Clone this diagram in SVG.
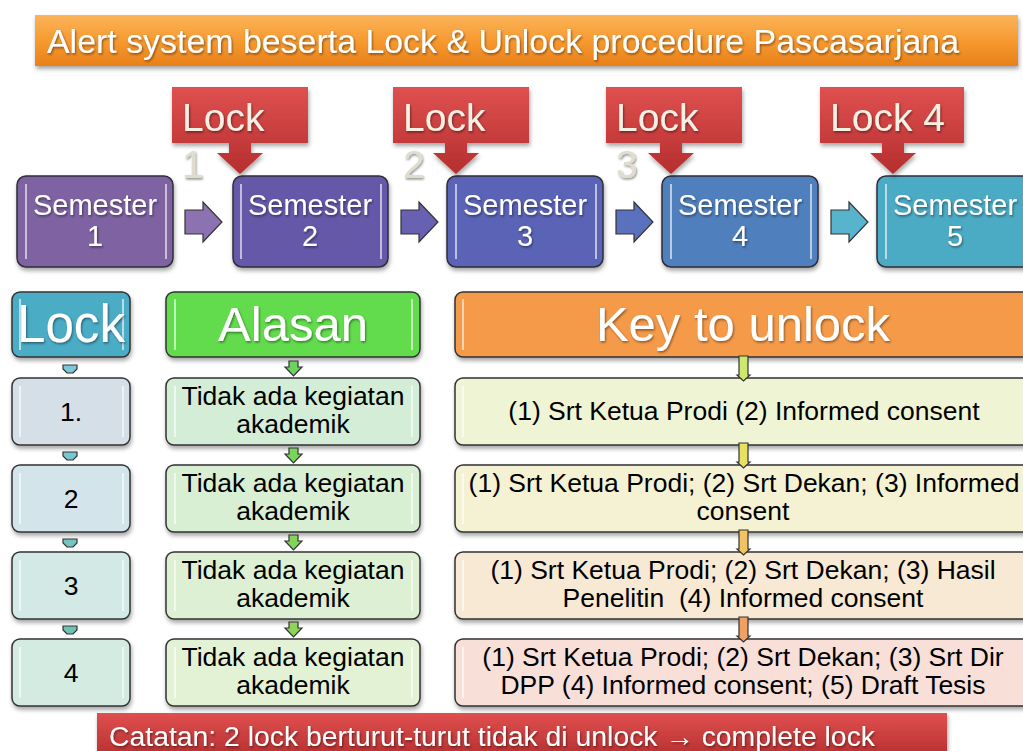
<svg xmlns="http://www.w3.org/2000/svg" width="1023" height="751" viewBox="0 0 1023 751">
<defs>
  <linearGradient id="gTitle" x1="0" y1="0" x2="0" y2="1">
    <stop offset="0" stop-color="#FBB45A"/><stop offset="0.5" stop-color="#F79A30"/><stop offset="1" stop-color="#E8801A"/>
  </linearGradient>
  <linearGradient id="gRed" x1="0" y1="0" x2="0" y2="1">
    <stop offset="0" stop-color="#E05050"/><stop offset="1" stop-color="#B52E2E"/>
  </linearGradient>
  <filter id="sh" x="-10%" y="-10%" width="130%" height="140%">
    <feDropShadow dx="1" dy="3" stdDeviation="2" flood-color="#000" flood-opacity="0.35"/>
  </filter>
  <filter id="tsh" x="-5%" y="-20%" width="110%" height="150%">
    <feDropShadow dx="1" dy="1.5" stdDeviation="0.8" flood-color="#000" flood-opacity="0.45"/>
  </filter>
</defs>
<style>
  text { font-family: "Liberation Sans", Arial, sans-serif; }
  .wt { fill: #FFFFFF; filter: url(#tsh); }
  .bk { fill: #000000; font-size: 26.5px; text-anchor: middle; }
  .sem { stroke: #2E2E38; stroke-width: 1.5; filter: url(#sh); }
  .gl { stroke: #FFFFFF; stroke-opacity: 0.6; stroke-width: 2; fill: none; }
  .semt { font-size: 29px; text-anchor: middle; }
  .lk { font-size: 39px; fill: #F4F0E4; filter: url(#tsh); }
  .lkn { font-size: 39px; fill: #E0DCCE; filter: url(#tsh); }
  .box { stroke: #333333; stroke-width: 1.5; filter: url(#sh); }
  .hd { font-size: 49px; text-anchor: middle; }
  .arr { stroke: #333333; stroke-width: 1.2; }
</style>

<g id="title">
  <rect x="35" y="15" width="983" height="51" fill="url(#gTitle)" filter="url(#sh)"/>
  <text x="47" y="53" class="wt" font-size="33" textLength="912" lengthAdjust="spacingAndGlyphs">Alert system beserta Lock &amp; Unlock procedure Pascasarjana</text>
</g>

<g id="sem1">
  <rect x="17" y="176" width="156" height="91" rx="9" fill="#7E62A2" class="sem"/>
  <line x1="26" y1="184" x2="26" y2="259" class="gl"/><line x1="166" y1="184" x2="166" y2="259" class="gl"/>
  <text x="95" y="215" class="wt semt">Semester</text><text x="95" y="246" class="wt semt">1</text>
</g>
<g id="sem2">
  <rect x="233" y="176" width="155" height="91" rx="9" fill="#6558A8" class="sem"/>
  <line x1="241" y1="184" x2="241" y2="259" class="gl"/><line x1="381" y1="184" x2="381" y2="259" class="gl"/>
  <text x="310" y="215" class="wt semt">Semester</text><text x="310" y="246" class="wt semt">2</text>
</g>
<g id="sem3">
  <rect x="447" y="176" width="156" height="91" rx="9" fill="#5A64B6" class="sem"/>
  <line x1="456" y1="184" x2="456" y2="259" class="gl"/><line x1="596" y1="184" x2="596" y2="259" class="gl"/>
  <text x="525" y="215" class="wt semt">Semester</text><text x="525" y="246" class="wt semt">3</text>
</g>
<g id="sem4">
  <rect x="662" y="176" width="156" height="91" rx="9" fill="#4F7FBD" class="sem"/>
  <line x1="671" y1="184" x2="671" y2="259" class="gl"/><line x1="811" y1="184" x2="811" y2="259" class="gl"/>
  <text x="740" y="215" class="wt semt">Semester</text><text x="740" y="246" class="wt semt">4</text>
</g>
<g id="sem5">
  <rect x="877" y="176" width="156" height="91" rx="9" fill="#4BAAC4" class="sem"/>
  <line x1="886" y1="184" x2="886" y2="259" class="gl"/>
  <text x="955" y="215" class="wt semt">Semester</text><text x="955" y="246" class="wt semt">5</text>
</g>

<g id="lock1">
  <path d="M172,87 H308 V143 H251 V153 H263 L240,174 L217,153 H229 V143 H172 Z" fill="url(#gRed)" filter="url(#sh)"/>
  <text x="182" y="131" class="lk">Lock</text>
  <text x="182" y="178" class="lkn">1</text>
</g>
<g id="lock2">
  <path d="M393,87 H529 V143 H467 V153 H479 L456,174 L433,153 H445 V143 H393 Z" fill="url(#gRed)" filter="url(#sh)"/>
  <text x="403" y="131" class="lk">Lock</text>
  <text x="403" y="178" class="lkn">2</text>
</g>
<g id="lock3">
  <path d="M606,87 H742 V143 H682 V153 H694 L671,174 L648,153 H660 V143 H606 Z" fill="url(#gRed)" filter="url(#sh)"/>
  <text x="616" y="131" class="lk">Lock</text>
  <text x="616" y="178" class="lkn">3</text>
</g>
<g id="lock4">
  <path d="M820,87 H964 V143 H904 V153 H916 L893,174 L870,153 H882 V143 H820 Z" fill="url(#gRed)" filter="url(#sh)"/>
  <text x="830" y="131" class="lk">Lock 4</text>
</g>

<g id="hdr-lock">
  <rect x="12" y="292" width="118" height="65" rx="8" fill="#4BACC6" class="box"/>
  <line x1="20" y1="299" x2="20" y2="350" class="gl"/><line x1="123" y1="299" x2="123" y2="350" class="gl"/>
  <text x="71" y="342" class="wt hd" style="font-size:54px" textLength="108" lengthAdjust="spacingAndGlyphs">Lock</text>
</g>
<g id="hdr-alasan">
  <rect x="166" y="292" width="254" height="65" rx="8" fill="#62DC4E" class="box"/>
  <line x1="175" y1="299" x2="175" y2="350" class="gl"/><line x1="412" y1="299" x2="412" y2="350" class="gl"/>
  <text x="293" y="341" class="wt hd">Alasan</text>
</g>
<g id="hdr-key">
  <rect x="455" y="292" width="590" height="65" rx="8" fill="#F59A4A" class="box"/>
  <line x1="463" y1="299" x2="463" y2="350" class="gl"/>
  <text x="743" y="341" class="wt hd">Key to unlock</text>
</g>

<g id="lock-r1"><rect x="12" y="378" width="118" height="67" rx="8" fill="#D4DFE8" class="box"/><line x1="20" y1="386" x2="20" y2="437" class="gl"/><line x1="123" y1="386" x2="123" y2="437" class="gl"/><text x="71" y="421" class="bk">1.</text></g>
<g id="lock-r2"><rect x="12" y="465" width="118" height="67" rx="8" fill="#D3E5EA" class="box"/><line x1="20" y1="473" x2="20" y2="524" class="gl"/><line x1="123" y1="473" x2="123" y2="524" class="gl"/><text x="71" y="508" class="bk">2</text></g>
<g id="lock-r3"><rect x="12" y="552" width="118" height="67" rx="8" fill="#D2E9E6" class="box"/><line x1="20" y1="560" x2="20" y2="611" class="gl"/><line x1="123" y1="560" x2="123" y2="611" class="gl"/><text x="71" y="595" class="bk">3</text></g>
<g id="lock-r4"><rect x="12" y="639" width="118" height="67" rx="8" fill="#D4EBE1" class="box"/><line x1="20" y1="647" x2="20" y2="698" class="gl"/><line x1="123" y1="647" x2="123" y2="698" class="gl"/><text x="71" y="682" class="bk">4</text></g>

<g id="alasan-r1"><rect x="166" y="378" width="254" height="67" rx="8" fill="#D3EDD6" class="box"/><line x1="175" y1="386" x2="175" y2="437" class="gl"/><line x1="412" y1="386" x2="412" y2="437" class="gl"/><text x="293" y="405" class="bk">Tidak ada kegiatan</text><text x="293" y="433" class="bk">akademik</text></g>
<g id="alasan-r2"><rect x="166" y="465" width="254" height="67" rx="8" fill="#D8EFD4" class="box"/><line x1="175" y1="473" x2="175" y2="524" class="gl"/><line x1="412" y1="473" x2="412" y2="524" class="gl"/><text x="293" y="492" class="bk">Tidak ada kegiatan</text><text x="293" y="520" class="bk">akademik</text></g>
<g id="alasan-r3"><rect x="166" y="552" width="254" height="67" rx="8" fill="#DDF0D3" class="box"/><line x1="175" y1="560" x2="175" y2="611" class="gl"/><line x1="412" y1="560" x2="412" y2="611" class="gl"/><text x="293" y="579" class="bk">Tidak ada kegiatan</text><text x="293" y="607" class="bk">akademik</text></g>
<g id="alasan-r4"><rect x="166" y="639" width="254" height="67" rx="8" fill="#E3F2D4" class="box"/><line x1="175" y1="647" x2="175" y2="698" class="gl"/><line x1="412" y1="647" x2="412" y2="698" class="gl"/><text x="293" y="666" class="bk">Tidak ada kegiatan</text><text x="293" y="694" class="bk">akademik</text></g>

<g id="key-r1"><rect x="455" y="378" width="590" height="67" rx="8" fill="#EFF4D4" class="box"/><line x1="463" y1="386" x2="463" y2="437" class="gl"/><text x="744" y="420" class="bk">(1) Srt Ketua Prodi (2) Informed consent</text></g>
<g id="key-r2"><rect x="455" y="465" width="590" height="67" rx="8" fill="#F4F2D3" class="box"/><line x1="463" y1="473" x2="463" y2="524" class="gl"/><text x="744" y="492" class="bk">(1) Srt Ketua Prodi; (2) Srt Dekan; (3) Informed</text><text x="743" y="520" class="bk">consent</text></g>
<g id="key-r3"><rect x="455" y="552" width="590" height="67" rx="8" fill="#F7E9D4" class="box"/><line x1="463" y1="560" x2="463" y2="611" class="gl"/><text x="743" y="579" class="bk">(1) Srt Ketua Prodi; (2) Srt Dekan; (3) Hasil</text><text x="743" y="607" class="bk" xml:space="preserve">Penelitin  (4) Informed consent</text></g>
<g id="key-r4"><rect x="455" y="639" width="590" height="67" rx="8" fill="#F8DFD8" class="box"/><line x1="463" y1="647" x2="463" y2="698" class="gl"/><text x="743" y="666" class="bk">(1) Srt Ketua Prodi; (2) Srt Dekan; (3) Srt Dir</text><text x="743" y="694" class="bk">DPP (4) Informed consent; (5) Draft Tesis</text></g>

<g id="connectors">
  <path d="M185,210 H203 V202 L222,222 L203,242 V234 H185 Z" fill="#8C72B0" class="arr"/>
  <path d="M401,210 H419 V202 L438,222 L419,242 V234 H401 Z" fill="#6860B0" class="arr"/>
  <path d="M616,210 H634 V202 L653,222 L634,242 V234 H616 Z" fill="#5A72BE" class="arr"/>
  <path d="M831,210 H849 V202 L868,222 L849,242 V234 H831 Z" fill="#58B4CC" class="arr"/>
  <path d="M63,365 H77 V369 L73,373 H67 L63,369 Z" fill="#7CC8D6" class="arr"/>
  <path d="M63,452 H77 V456 L73,460 H67 L63,456 Z" fill="#78C6D2" class="arr"/>
  <path d="M63,539 H77 V543 L73,547 H67 L63,543 Z" fill="#74C4C0" class="arr"/>
  <path d="M63,626 H77 V630 L73,634 H67 L63,630 Z" fill="#70C2B4" class="arr"/>
  <path d="M289,361 H298 V367 H302 L293.5,376 L285,367 H289 Z" fill="#6CD45C" class="arr"/>
  <path d="M289,448 H298 V454 H302 L293.5,463 L285,454 H289 Z" fill="#78D45C" class="arr"/>
  <path d="M289,535 H298 V541 H302 L293.5,550 L285,541 H289 Z" fill="#84D45C" class="arr"/>
  <path d="M289,622 H298 V628 H302 L293.5,637 L285,628 H289 Z" fill="#8ED45C" class="arr"/>
  <path d="M739,356 H748 V375 H750 L743.5,381 L737,375 H739 Z" fill="#CDE86C" class="arr"/>
  <path d="M739,443 H748 V462 H750 L743.5,468 L737,462 H739 Z" fill="#E8E060" class="arr"/>
  <path d="M739,530 H748 V549 H750 L743.5,555 L737,549 H739 Z" fill="#F0C462" class="arr"/>
  <path d="M739,617 H748 V636 H750 L743.5,642 L737,636 H739 Z" fill="#F0A060" class="arr"/>
</g>

<g id="note">
  <rect x="97" y="713" width="850" height="45" fill="url(#gRed)" filter="url(#sh)"/>
  <text x="109" y="746" class="wt" font-size="27" textLength="766" lengthAdjust="spacingAndGlyphs">Catatan: 2 lock berturut-turut tidak di unlock → complete lock</text>
</g>
</svg>
